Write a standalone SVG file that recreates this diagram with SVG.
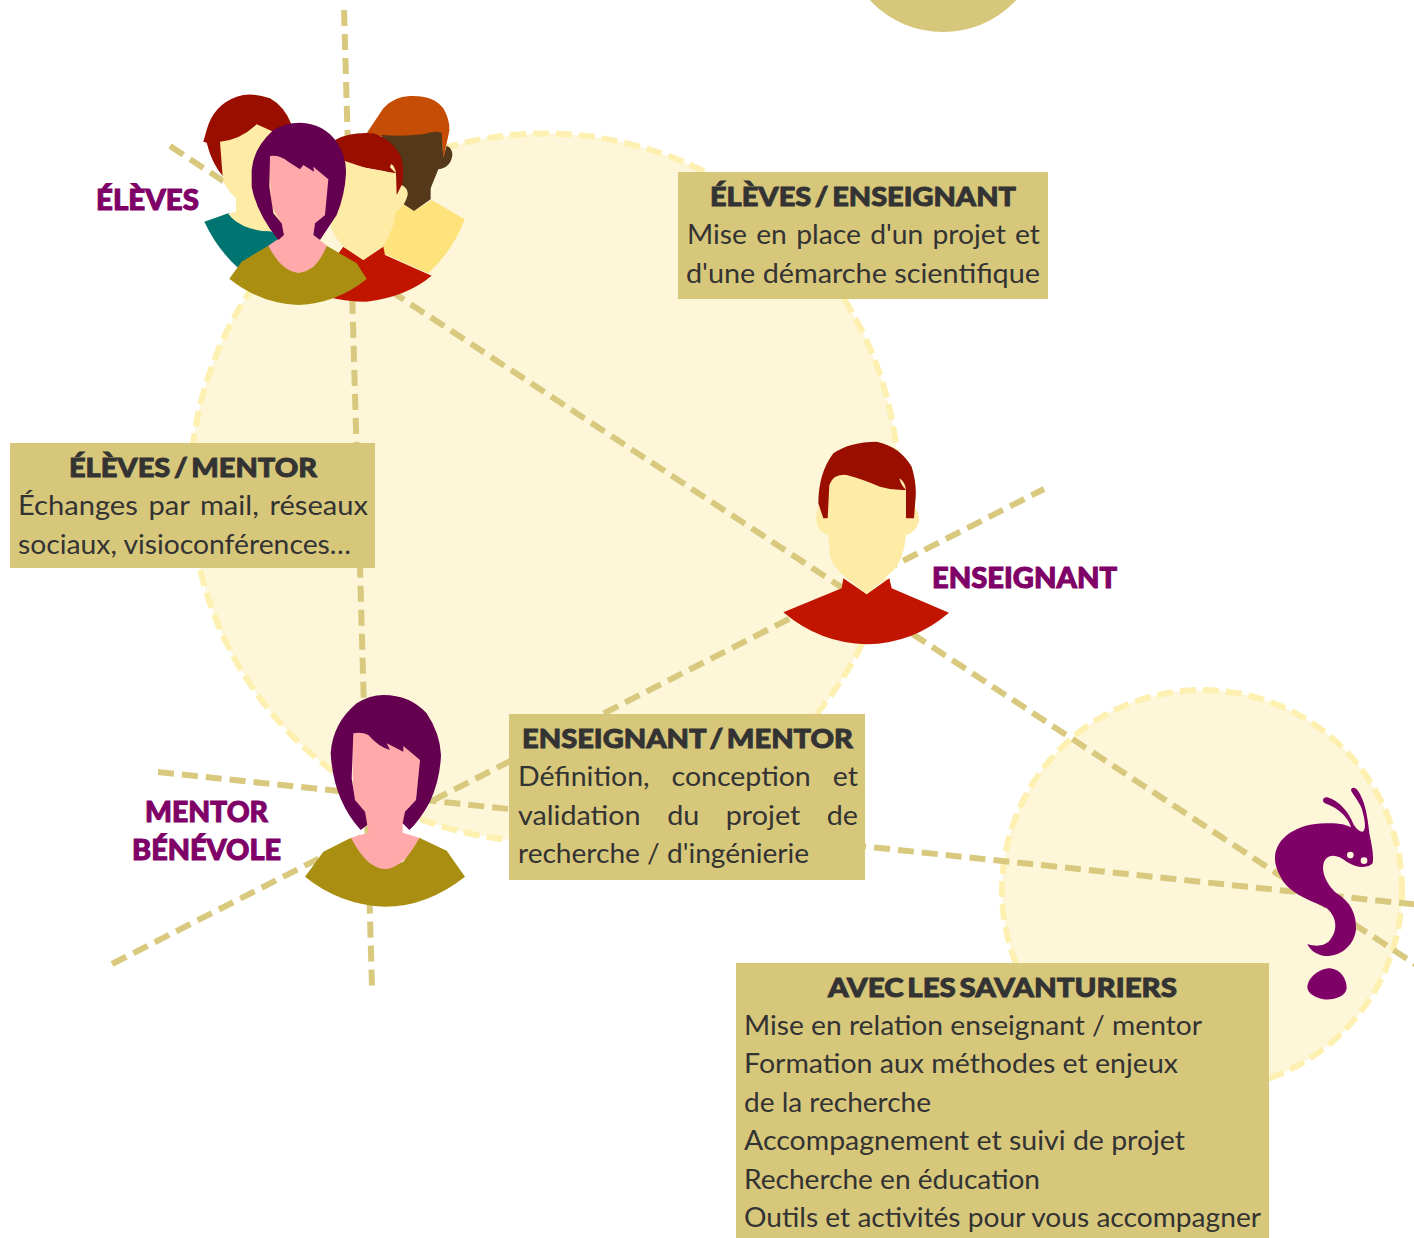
<svg xmlns="http://www.w3.org/2000/svg" width="1414" height="1238" viewBox="0 0 1414 1238">
<style>
.zone{fill:#fdf6d8;stroke:#fdf0b0;stroke-width:6;stroke-dasharray:16 7}
.link{stroke:#d8c97f;stroke-width:6;stroke-dasharray:16 8;fill:none}
.box{fill:#d7c77b}
text{font-family:"Lato","Liberation Sans",sans-serif;fill:#333;font-size:27px}
.h{font-weight:900;font-size:27px;stroke:#333;stroke-width:.9;word-spacing:-3px}
.who{font-weight:900;fill:#7f0067;stroke:#7f0067;stroke-width:1;font-size:28px}
.hair{fill:#9a0e00}.skin{fill:#feeba6}.red{fill:#c21500}
.pu{fill:#64004f}.pk{fill:#ffa9ab}.ol{fill:#a98e12}
</style>
<g id="zones">
<circle class="zone" cx="544.5" cy="487.5" r="354"/>
<circle class="zone" cx="1202" cy="890" r="200"/>
<circle cx="943" cy="-68" r="100" fill="#d7c77b"/>
</g>
<g id="connectors">
<line class="link" x1="344" y1="10" x2="372" y2="987"/>
<line class="link" x1="170" y1="146" x2="1430" y2="974"/>
<line class="link" x1="112" y1="964" x2="1044" y2="489"/>
<line class="link" x1="158" y1="772" x2="1430" y2="906"/>
</g>
<g id="eleves">
<g transform="translate(160 80) scale(.33333)">
<path fill="#c64d05" d="M620,160 L670,85 Q700,50 750,48 Q820,45 850,85 Q870,120 868,150 L850,235 L845,170 L670,170Z"/>
<path fill="#fee27c" d="M815,360 L914,418 Q880,510 805,580 L670,520 L640,400 L730,372 L762,393Z"/>
<path fill="#53381a" d="M665,165 Q730,170 790,163 Q825,150 845,158 L850,232 L860,197 Q878,205 877,225 Q873,262 835,268 L812,325 L812,358 L762,393 L730,372 L680,300Z"/>
<path fill="#c64d05" d="M846,160 L868,150 L850,235Z"/>
<path class="hair" d="M130,185 L140,150 Q160,75 230,50 Q275,35 330,55 Q375,80 395,135 L300,300 L190,290 Q155,250 140,188Z"/>
<path d="M133,425 L205,400 L300,440 L370,470 L235,565 Q170,505 133,425Z" fill="#007470"/>
<path class="skin" d="M180,185 Q240,180 290,133 L340,155 L370,450 Q320,460 270,445 Q225,430 205,402 L228,395 L228,355 Q190,320 188,290Z"/>
<path class="hair" d="M525,180 Q570,155 640,160 Q700,180 725,235 Q738,285 718,350 L708,350 L708,280 L600,260 L540,240Z"/>
<path class="red" d="M550,500 L610,540 L670,500 L675,525 L815,587 Q740,650 620,665 Q560,665 500,650 L520,540Z"/>
<path class="skin" d="M545,240 L620,265 L708,280 L710,345 L725,315 Q745,325 743,345 Q735,380 708,395 Q705,440 670,497 L610,540 L550,500 Q520,470 510,430 L530,300Z"/>
<path class="skin" d="M693,252 Q705,258 708,280 L690,262Z"/>
<path class="ol" d="M208,596 L245,545 L325,497 L370,550 L415,578 L460,560 L500,497 L590,550 L620,597 Q530,670 415,675 Q300,670 208,596Z"/>
<path class="pk" d="M325,497 L372,465 L365,430 L335,380 L325,210 L510,230 L500,400 L465,430 L460,465 L500,497 Q470,575 415,578 Q365,575 325,497Z"/>
<path class="pu" d="M275,270 Q280,205 340,150 Q375,128 420,128 Q490,130 530,185 Q560,230 558,280 Q555,345 530,405 L480,480 L460,465 L465,430 L495,405 L505,298 L460,260 L462,275 L430,255 L420,268 L385,245 Q360,225 330,228 L328,320 L340,400 L365,430 L372,465 L355,480 Q290,400 275,320Z"/>
</g>
<text class="who" x="96" y="210" textLength="103" lengthAdjust="spacingAndGlyphs">ÉLÈVES</text>
</g>
<g id="enseignant">
<g transform="translate(770 430) scale(.33333)">
<path class="red" d="M40,547 L215,475 L220,445 L290,493 L358,445 L365,475 L537,548 Q430,640 290,643 Q150,640 40,547Z"/>
<path class="skin" d="M150,220 Q130,260 145,295 Q160,312 175,315 L180,380 Q190,410 220,435 L290,493 L360,430 Q400,400 408,315 Q435,310 445,280 Q455,250 425,220 L420,120 L170,120Z"/>
<path class="hair" d="M145,220 Q145,130 190,70 Q240,35 320,35 Q390,50 425,110 Q440,160 437,200 L432,265 L408,265 L408,180 Q370,182 330,170 Q270,145 230,135 Q190,130 178,165 L173,265 L160,265Z"/>
<path class="skin" d="M388,145 Q405,155 408,180 Q392,165 388,145Z"/>
</g>
<text class="who" x="932" y="588" textLength="185" lengthAdjust="spacingAndGlyphs">ENSEIGNANT</text>
</g>
<g id="mentor">
<g transform="translate(290 680) scale(.33333)">
<path class="ol" d="M45,590 L100,515 L183,473 L235,545 L285,567 L340,545 L388,473 L470,512 L525,590 Q410,680 285,680 Q150,675 45,590Z"/>
<path class="pk" d="M183,473 L236,458 L232,435 L190,350 L185,140 L400,140 L378,360 L338,430 L338,458 L388,473 Q340,565 285,567 Q230,565 183,473Z"/>
<path class="pu" d="M122,220 Q128,130 200,70 Q240,45 280,45 Q360,45 410,100 Q450,160 453,225 Q450,300 420,365 Q390,420 358,450 L338,430 L345,395 L378,360 L390,240 L340,198 L340,215 L290,190 L300,210 Q265,200 235,165 Q215,155 190,160 L185,295 L195,360 L225,395 L232,435 L212,450 Q130,360 122,220Z"/>
</g>
<text class="who" x="145" y="822" textLength="123" lengthAdjust="spacingAndGlyphs">MENTOR</text>
<text class="who" x="132" y="860" textLength="149" lengthAdjust="spacingAndGlyphs">BÉNÉVOLE</text>
</g>
<g id="savanturiers">
<g transform="translate(1250 770) scale(.33333)">
<path fill="#7f0067" d="M75,265 C75,200 150,155 240,160 C270,160 290,165 303,172 C298,150 270,115 225,100 C215,95 218,80 232,82 C265,92 290,120 305,150 C312,170 325,185 338,185 C350,180 345,150 335,115 C325,90 305,70 303,60 C305,50 315,52 322,60 C345,90 353,140 358,190 C365,225 372,255 368,280 C355,295 320,295 290,275 C265,255 240,250 225,270 C210,295 225,340 260,370 C300,395 320,430 318,480 C310,530 270,560 225,558 C200,555 180,540 172,522 C195,530 225,530 240,510 C265,480 260,440 230,415 C200,395 140,385 100,335 C85,310 75,290 75,265Z"/>
<path fill="#7f0067" d="M172,650 C175,620 210,595 240,595 C270,597 290,625 290,655 C288,680 250,692 220,688 C195,682 172,670 172,650Z"/>
<circle cx="301" cy="255" r="10" fill="#fdf6d8"/>
<circle cx="342" cy="272" r="10" fill="#fdf6d8"/>
</g>
</g>
<g id="box-eleves-enseignant">
<rect class="box" x="678" y="172" width="370" height="127"/>
<text class="h" x="710" y="206" textLength="306" lengthAdjust="spacingAndGlyphs">ÉLÈVES / ENSEIGNANT</text>
<text x="687" y="244" textLength="353" lengthAdjust="spacingAndGlyphs" word-spacing="2">Mise en place d'un projet et</text>
<text x="686" y="283" textLength="354" lengthAdjust="spacingAndGlyphs">d'une démarche scientifique</text>
</g>
<g id="box-eleves-mentor">
<rect class="box" x="10" y="443" width="365" height="125"/>
<text class="h" x="69" y="477" textLength="248" lengthAdjust="spacingAndGlyphs">ÉLÈVES / MENTOR</text>
<text x="18" y="515" textLength="350" lengthAdjust="spacingAndGlyphs" word-spacing="3">Échanges par mail, réseaux</text>
<text x="18" y="554" textLength="333" lengthAdjust="spacingAndGlyphs">sociaux, visioconférences…</text>
</g>
<g id="box-enseignant-mentor">
<rect class="box" x="509" y="714" width="356" height="166"/>
<text class="h" x="522" y="748" textLength="331" lengthAdjust="spacingAndGlyphs">ENSEIGNANT / MENTOR</text>
<text x="518" y="786" textLength="340" lengthAdjust="spacingAndGlyphs" word-spacing="14">Définition, conception et</text>
<text x="518" y="825" textLength="340" lengthAdjust="spacingAndGlyphs" word-spacing="18">validation du projet de</text>
<text x="518" y="863" textLength="291" lengthAdjust="spacingAndGlyphs">recherche / d'ingénierie</text>
</g>
<g id="box-savanturiers">
<rect class="box" x="736" y="963" width="533" height="275"/>
<text class="h" x="828" y="997" textLength="349" lengthAdjust="spacingAndGlyphs">AVEC LES SAVANTURIERS</text>
<text x="744" y="1035" textLength="458" lengthAdjust="spacingAndGlyphs">Mise en relation enseignant / mentor</text>
<text x="744" y="1073" textLength="434" lengthAdjust="spacingAndGlyphs">Formation aux méthodes et enjeux</text>
<text x="744" y="1112" textLength="187" lengthAdjust="spacingAndGlyphs">de la recherche</text>
<text x="744" y="1150" textLength="441" lengthAdjust="spacingAndGlyphs">Accompagnement et suivi de projet</text>
<text x="744" y="1189" textLength="296" lengthAdjust="spacingAndGlyphs">Recherche en éducation</text>
<text x="744" y="1227" textLength="517" lengthAdjust="spacingAndGlyphs">Outils et activités pour vous accompagner</text>
</g>
</svg>
